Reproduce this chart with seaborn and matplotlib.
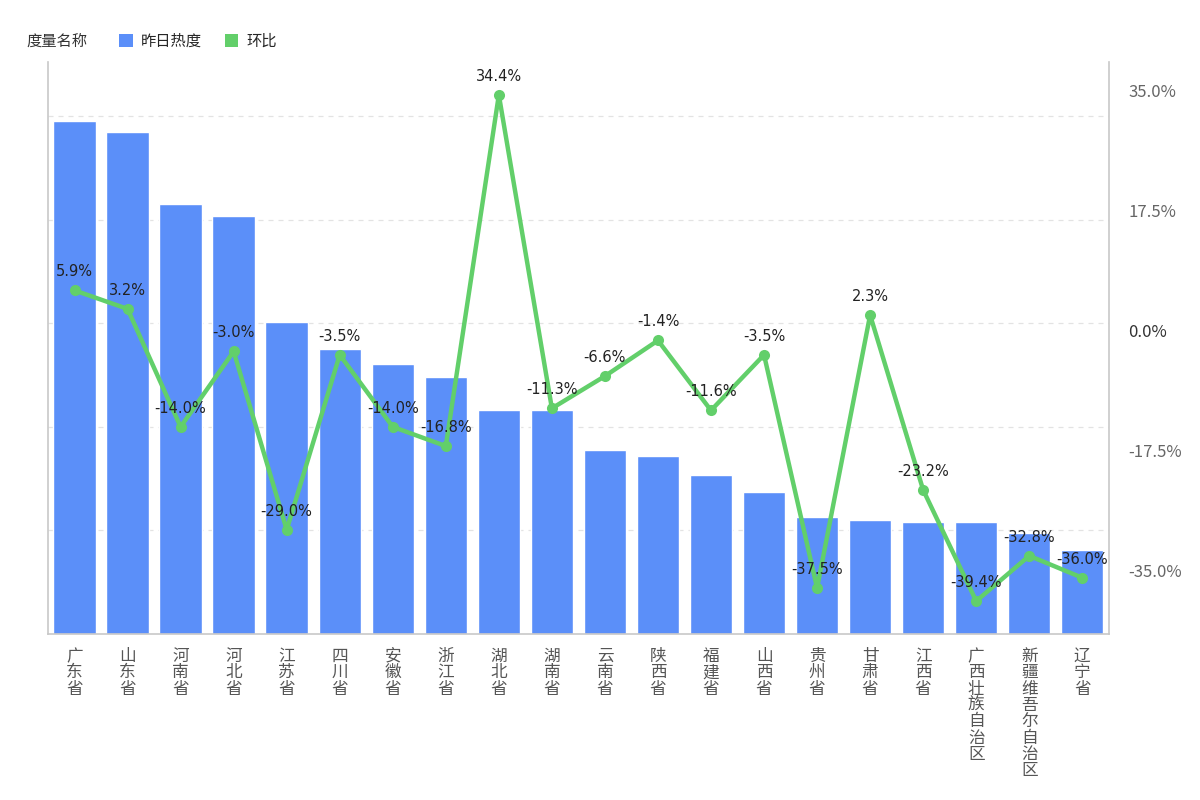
import matplotlib
matplotlib.use("Agg")
import matplotlib.pyplot as plt
import seaborn as sns
import pandas as pd
import numpy as np
from matplotlib.patches import Patch

sns.set_style("white")
plt.rcParams['font.family'] = ['Noto Sans CJK SC', 'DejaVu Sans']
plt.rcParams['axes.unicode_minus'] = False

provinces = ["广东省", "山东省", "河南省", "河北省", "江苏省", "四川省", "安徽省", "浙江省",
             "湖北省", "湖南省", "云南省", "陕西省", "福建省", "山西省", "贵州省", "甘肃省",
             "江西省", "广西壮族自治区", "新疆维吾尔自治区", "辽宁省"]
heat = [4.95, 4.84, 4.15, 4.03, 3.01, 2.75, 2.61, 2.48, 2.16, 2.16,
        1.78, 1.72, 1.53, 1.37, 1.13, 1.10, 1.08, 1.08, 0.97, 0.81]
ratio = [5.9, 3.2, -14.0, -3.0, -29.0, -3.5, -14.0, -16.8, 34.4, -11.3,
         -6.6, -1.4, -11.6, -3.5, -37.5, 2.3, -23.2, -39.4, -32.8, -36.0]
right_ticks = [35.0, 17.5, 0.0, -17.5, -35.0]

bar_color = "#5B8FF9"
line_color = "#62CF6A"

df = pd.DataFrame({"省份": provinces, "昨日热度": heat, "环比": ratio})
df["pos"] = np.arange(len(df))

fig = plt.figure(figsize=(12, 8), dpi=100)
ax = fig.add_axes([0.04, 0.2075, 0.884, 0.715])

sns.barplot(data=df, x="pos", y="昨日热度", color=bar_color, saturation=1,
            width=0.8, ax=ax, native_scale=True)
ax.set_xlim(-0.5, len(df) - 0.5)
ax.set_ylim(0, 5.52)
ax.set_yticks([1, 2, 3, 4, 5])
ax.yaxis.grid(True, linestyle=(0, (4, 4)), color="#e3e3e3", linewidth=0.9)
ax.set_axisbelow(True)
ax.set_xticks(df["pos"])
ax.set_xticklabels(["\n".join(list(p)) for p in provinces], color="#555555",
                   fontsize=12, linespacing=0.95, va="top")
ax.set_xlabel("")
ax.set_ylabel("")
for s in ["top", "right"]:
    ax.spines[s].set_visible(False)
for s in ["left", "bottom"]:
    ax.spines[s].set_color("#c8c8c8")
    ax.spines[s].set_linewidth(1.2)

ax2 = ax.twinx()
sns.lineplot(data=df, x="pos", y="环比", color=line_color, linewidth=3.2,
             marker="o", markersize=8, markeredgewidth=0, ax=ax2)
ax2.set_ylim(-44.2, 39.2)
ax2.set_yticks(right_ticks)
ax2.set_yticklabels([f"{t:.1f}%" for t in right_ticks], fontsize=12)
for lab, t in zip(ax2.get_yticklabels(), right_ticks):
    lab.set_color("#333333" if t == 0 else "#666666")
ax2.set_ylabel("")
ax2.set_xlabel("")
for s in ["top", "left", "bottom"]:
    ax2.spines[s].set_visible(False)
ax2.spines["right"].set_color("#c8c8c8")
ax2.spines["right"].set_linewidth(1.2)
ax2.grid(False)

ax.tick_params(axis="y", which="both", left=False, right=False, labelleft=False, length=0)
ax.tick_params(axis="x", which="both", bottom=False, length=0, pad=10)
ax2.tick_params(axis="y", which="both", left=False, right=False, length=0, pad=14)
ax2.tick_params(axis="x", which="both", bottom=False, top=False, length=0)

for x, v in zip(df["pos"], ratio):
    ax2.annotate(f"{v:.1f}%", (x, v), xytext=(0, 8), textcoords="offset points",
                 ha="center", va="bottom", fontsize=10.5, color="#222222",
                 family=["DejaVu Sans"])

fig.text(0.022, 0.948, "度量名称", fontsize=11, color="#333333", va="center")
handles = [Patch(facecolor=bar_color, edgecolor="none"),
           Patch(facecolor=line_color, edgecolor="none")]
fig.legend(handles, ["昨日热度", "环比"], loc="center left",
           bbox_to_anchor=(0.088, 0.948), ncol=2, frameon=False, fontsize=11,
           handlelength=0.9, handleheight=0.9, handletextpad=0.5, columnspacing=1.5)

fig.savefig("out.png", dpi=100)
